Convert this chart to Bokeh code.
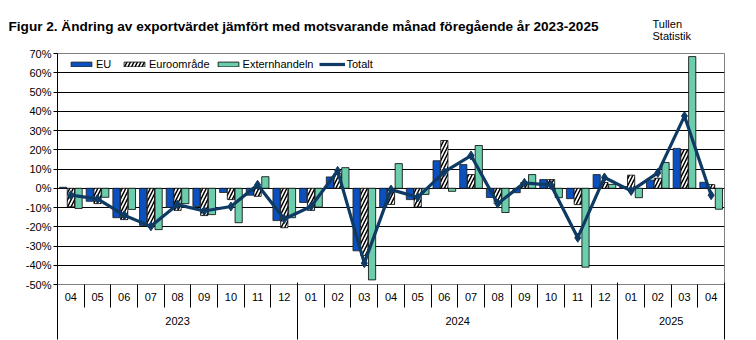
from bokeh.plotting import figure
from bokeh.models import (Range1d, FixedTicker, LinearAxis, Legend, LegendItem,
                          PrintfTickFormatter, Label, ColumnDataSource, Title)
from bokeh.transform import dodge
from bokeh.embed import file_html
from bokeh.resources import INLINE

# ---------------- data ----------------
months = ["04", "05", "06", "07", "08", "09", "10", "11", "12",
          "01", "02", "03", "04", "05", "06", "07", "08", "09", "10", "11", "12",
          "01", "02", "03", "04"]
years = ["2023", "2024", "2025"]
year_counts = [9, 12, 4]

eu = [0.5, -6.8, -15.3, -19.3, -10.0, -9.5, -2.2, -3.6, -16.8,
      -7.4, 5.9, -32.5, -10.0, -5.9, 14.3, 12.3, -4.8, -2.3, 4.5, -5.4, 7.1,
      0.9, 4.2, 20.7, 3.1]
euro = [-9.6, -8.0, -16.3, -20.0, -11.5, -14.2, -5.9, -4.2, -20.5,
        -11.5, 7.8, -35.0, -8.4, -9.7, 24.8, 7.1, -8.0, 3.0, 4.5, -8.5, 3.0,
        6.8, 5.2, 20.1, 1.9]
ext = [-10.5, -4.7, -11.0, -21.5, -8.0, -13.7, -17.9, 6.0, -15.3,
       -9.8, 10.7, -47.6, 12.8, -3.2, -1.6, 22.2, -12.6, 7.1, -4.9, -41.0, 2.0,
       -4.9, 13.4, 68.4, -10.9]
totalt = [-3.6, -5.5, -14.0, -19.8, -8.5, -11.8, -9.5, 1.8, -16.0,
          -9.5, 9.0, -38.9, -0.7, -4.7, 8.5, 17.0, -8.0, 2.8, 1.6, -25.7, 5.6,
          -1.4, 8.0, 37.5, -3.6]
y_ticks = [-50, -40, -30, -20, -10, 0, 10, 20, 30, 40, 50, 60, 70]

title_text = "Figur 2. Ändring av exportvärdet jämfört med motsvarande månad föregående år 2023-2025"
source_lines = ["Tullen", "Statistik"]

# ---------------- derived positions ----------------
n = len(months)
xc = [i + 0.5 for i in range(n)]
bounds = [0]
for c in year_counts:
    bounds.append(bounds[-1] + c)
year_centers = [(bounds[k] + bounds[k + 1]) / 2 for k in range(len(years))]

src = ColumnDataSource(dict(x=xc, eu=eu, euro=euro, ext=ext, tot=totalt))

FONT = "Liberation Sans"
BLUE = "#0A50BE"
GREEN = "#6CCDAC"
NAVY = "#0E3A63"

p = figure(width=756, height=340, output_backend="svg", toolbar_location=None,
           x_range=Range1d(0, n), y_range=Range1d(y_ticks[0], y_ticks[-1]),
           x_axis_location=None,
           min_border_left=57, min_border_right=32, min_border_top=53, min_border_bottom=56)

p.background_fill_color = "white"
p.border_fill_color = "white"
p.outline_line_color = "#808080"
p.outline_line_width = 1

# y axis
yax = p.yaxis[0]
yax.ticker = FixedTicker(ticks=y_ticks)
yax.formatter = PrintfTickFormatter(format="%d%%")
yax.major_tick_out = 4
yax.major_tick_in = 0
yax.minor_tick_line_color = None
yax.axis_line_color = "black"
yax.major_tick_line_color = "black"
yax.major_label_text_font = FONT
yax.major_label_text_font_size = "11px"
yax.major_label_text_color = "black"
yax.major_label_standoff = 2

p.ygrid.ticker = FixedTicker(ticks=y_ticks[1:-1])
p.ygrid.grid_line_color = "black"
p.ygrid.grid_line_width = 1
p.xgrid.visible = False

# month axis
ax_m = LinearAxis(ticker=FixedTicker(ticks=xc, minor_ticks=list(range(n + 1))),
                  major_label_overrides={x: m for x, m in zip(xc, months)},
                  major_tick_out=0, major_tick_in=0,
                  minor_tick_out=23, minor_tick_in=0,
                  minor_tick_line_color="black", major_tick_line_color=None,
                  axis_line_color="#808080",
                  major_label_standoff=-15,
                  major_label_text_font=FONT, major_label_text_font_size="11px",
                  major_label_text_color="black")
p.add_layout(ax_m, "below")

# year axis
ax_y = LinearAxis(ticker=FixedTicker(ticks=year_centers, minor_ticks=bounds),
                  major_label_overrides={x: y for x, y in zip(year_centers, years)},
                  major_tick_out=0, major_tick_in=0,
                  minor_tick_out=36, minor_tick_in=21,
                  minor_tick_line_color="black", major_tick_line_color=None,
                  axis_line_color=None,
                  major_label_standoff=-23,
                  major_label_text_font=FONT, major_label_text_font_size="11px",
                  major_label_text_color="black")
p.add_layout(ax_y, "below")

# bars
bw = 0.27
r_eu = p.vbar(x=dodge("x", -0.29, range=p.x_range), top="eu", bottom=0, width=bw, source=src,
              fill_color=BLUE, line_color="#1a1a1a", line_width=0.8)
r_euro = p.vbar(x="x", top="euro", bottom=0, width=bw, source=src,
                fill_color="white", line_color="black", line_width=0.8,
                hatch_pattern="/", hatch_color="black", hatch_weight=1.5, hatch_scale=7)
r_ext = p.vbar(x=dodge("x", 0.29, range=p.x_range), top="ext", bottom=0, width=bw, source=src,
               fill_color=GREEN, line_color="black", line_width=0.8)

# total line
r_tl = p.line(x="x", y="tot", source=src, line_color=NAVY, line_width=3.2)
r_tm = p.scatter(x="x", y="tot", source=src, marker="diamond", size=9,
                 fill_color=NAVY, line_color=NAVY)

legend = Legend(items=[LegendItem(label="EU", renderers=[r_eu]),
                       LegendItem(label="Euroområde", renderers=[r_euro]),
                       LegendItem(label="Externhandeln", renderers=[r_ext]),
                       LegendItem(label="Totalt", renderers=[r_tl, r_tm])],
                location=(11, 214), orientation="horizontal",
                background_fill_color="white", background_fill_alpha=1,
                border_line_color=None,
                label_text_font=FONT, label_text_font_size="11px", label_text_color="black",
                glyph_width=26, glyph_height=6, label_standoff=2, spacing=5,
                padding=2, margin=0, label_height=12)
p.add_layout(legend, "center")

# title: a four-line box (three blank lines) with negative standoff keeps the
# panel short while the first line sits near the top of the canvas
p.add_layout(Title(text=title_text + "\n \n \n ", text_font=FONT, text_font_size="13.6px",
                   text_font_style="bold", text_color="black", align="left",
                   offset=-49, standoff=-50, vertical_align="bottom"), "above")

for k, t in enumerate(source_lines):
    p.add_layout(Label(x=652, y=23 + 12 * k, x_units="canvas", y_units="canvas", text=t,
                       text_font=FONT, text_font_size="11px", text_color="black",
                       text_baseline="alphabetic"), "above")

open("out.html", "w").write(file_html(p, INLINE))
